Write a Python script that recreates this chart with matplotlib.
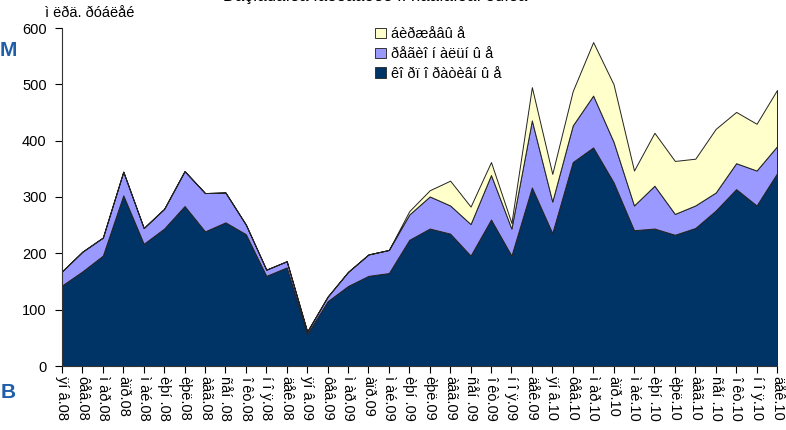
import matplotlib
matplotlib.use("Agg")
import matplotlib.pyplot as plt
import numpy as np
from matplotlib.patches import Patch

plt.rcParams['font.family'] = ['Liberation Sans', 'DejaVu Sans']

months = ['ÿí â.08', 'ôåâ.08', 'ì àð.08', 'àïð.08', 'ì àé.08', 'èþí .08',
          'èþë.08', 'àâã.08', 'ñåí .08', 'î êò.08', 'í î ÿ.08', 'äåê.08',
          'ÿí â.09', 'ôåâ.09', 'ì àð.09', 'àïð.09', 'ì àé.09', 'èþí .09',
          'èþë.09', 'àâã.09', 'ñåí .09', 'î êò.09', 'í î ÿ.09', 'äåê.09',
          'ÿí â.10', 'ôåâ.10', 'ì àð.10', 'àïð.10', 'ì àé.10', 'èþí .10',
          'èþë.10', 'àâã.10', 'ñåí .10', 'î êò.10', 'í î ÿ.10', 'äåê.10']

# corporate (bottom layer)
corporate = [143, 168, 196, 303, 217, 244, 284, 239, 255, 234, 160, 175,
             57, 115, 142, 160, 165, 224, 244, 235, 196, 260, 196, 317,
             236, 362, 388, 326, 241, 244, 233, 245, 276, 314, 285, 342]
# regional (middle layer)
regional = [25, 35, 32, 42, 28, 35, 62, 68, 53, 17, 11, 11,
            4, 8, 25, 38, 41, 45, 57, 50, 56, 79, 48, 119,
            56, 65, 92, 72, 44, 76, 37, 40, 32, 46, 62, 48]
# exchange-traded (top layer)
exchange = [0, 0, 0, 0, 0, 0, 0, 0, 0, 0, 0, 0,
            0, 0, 0, 0, 0, 6, 11, 44, 31, 23, 10, 59,
            49, 61, 95, 102, 62, 94, 94, 83, 113, 91, 83, 100]

series_labels = ['êî ðï î ðàòèâí û å', 'ðåãèî í àëüí û å', 'áèðæåâû å']
colors = ['#003366', '#9999FF', '#FFFFCC']

fig = plt.figure(figsize=(7.86, 4.30), dpi=100)
ax = fig.add_axes([62/786, 64/430, 715/786, 338/430])

x = np.arange(len(months))
ax.stackplot(x, corporate, regional, exchange, colors=colors,
             edgecolor='#222222', linewidth=0.7)

ax.set_xlim(0, len(months) - 1)
ax.set_ylim(0, 600)
ax.set_yticks(range(0, 601, 100))
ax.set_xticks(x)
ax.set_xticklabels(months, rotation=-90, fontsize=10.5, va='top', ha='center')
ax.tick_params(axis='y', labelsize=10.5, length=5, width=0.8, direction='out', pad=6)
ax.tick_params(axis='x', length=5, width=0.8, direction='out', pad=2)

for s in ['top', 'right']:
    ax.spines[s].set_visible(False)
for s in ['left', 'bottom']:
    ax.spines[s].set_linewidth(0.8)
    ax.spines[s].set_color('#333333')

handles = [Patch(facecolor=colors[i], edgecolor='#333333', linewidth=0.7,
                 label=series_labels[i]) for i in (2, 1, 0)]
leg = fig.legend(handles=handles, loc='upper left', bbox_to_anchor=(365/786, 1 - 17/430),
                 frameon=False, fontsize=10.5, handlelength=0.75, handleheight=0.75,
                 handletextpad=0.35, labelspacing=0.4, borderpad=0.2)

fig.text(45/786, 1 - 13/430, 'ì ëðä. ðóáëåé', fontsize=10.5, ha='left', va='center')
fig.text(375/786, 1 + 4/430, 'Ðàçìåùåíèå îáëèãàöèé ïî ñåãìåíòàì ðûíêà',
         fontsize=12, ha='center', va='center')

fig.text(0/786, 1 - 50/430, 'M', fontsize=15, fontweight='bold', color='#1E5FA8',
         ha='left', va='center')
fig.text(1/786, 1 - 392/430, 'B', fontsize=15, fontweight='bold', color='#1E5FA8',
         ha='left', va='center')

fig.savefig('out.png', dpi=100)
